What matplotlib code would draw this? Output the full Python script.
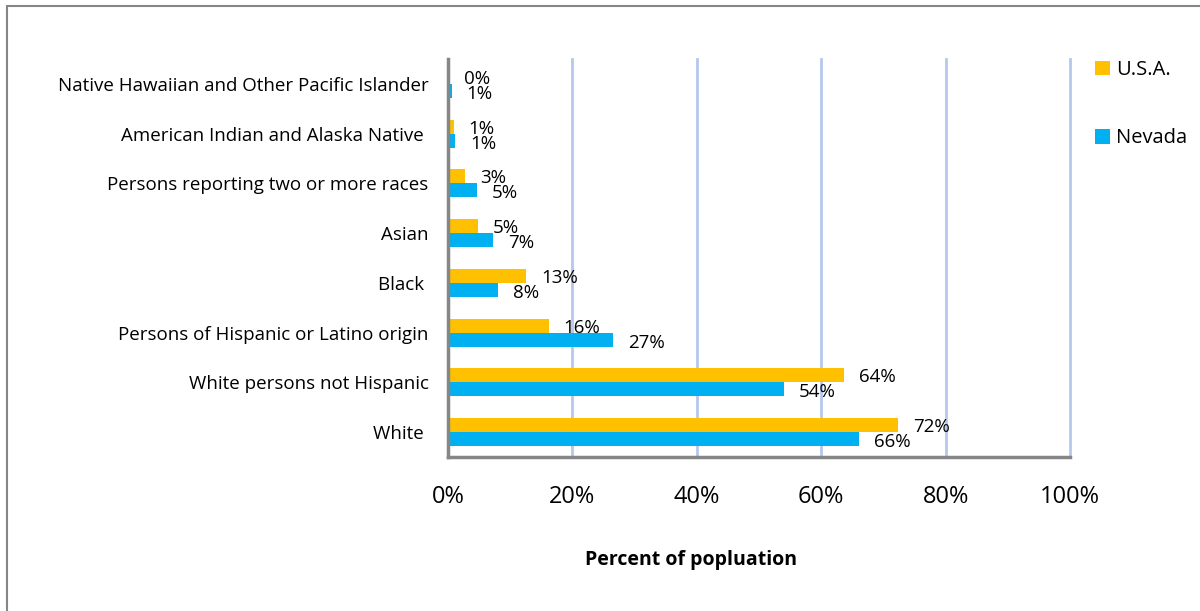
import numpy as np
import matplotlib
matplotlib.use("Agg")
import matplotlib.pyplot as plt
from matplotlib.patches import Rectangle

plt.rcParams['font.family'] = ['Open Sans', 'DejaVu Sans']

categories = ["White ", "White persons not Hispanic", "Persons of Hispanic or Latino origin",
              "Black ", "Asian", "Persons reporting two or more races",
              "American Indian and Alaska Native ", "Native Hawaiian and Other Pacific Islander"]
usa_values = [72.3, 63.6, 16.2, 12.6, 4.8, 2.8, 0.9, 0.2]
nevada_values = [66.1, 54.0, 26.5, 8.1, 7.2, 4.7, 1.2, 0.6]
usa_labels = ["72%", "64%", "16%", "13%", "5%", "3%", "1%", "0%"]
nevada_labels = ["66%", "54%", "27%", "8%", "7%", "5%", "1%", "1%"]
xticks = [0, 20, 40, 60, 80, 100]

usa_color = "#FFC000"
nevada_color = "#00B0F0"

fig = plt.figure(figsize=(12, 6.11), dpi=100)
ax = fig.add_axes([448 / 1200, 1 - 457 / 611, 622 / 1200, 398 / 611])

y = np.arange(len(categories))
h = 0.28
ax.barh(y + h / 2, usa_values, height=h, color=usa_color, label="U.S.A.")
ax.barh(y - h / 2, nevada_values, height=h, color=nevada_color, label="Nevada")

# value labels, offset right of bar ends like the original
for yi, v, lab in zip(y, usa_values, usa_labels):
    ax.annotate(lab, (v, yi + h / 2), xytext=(15, -2), textcoords="offset pixels",
                va="center", ha="left", fontsize=13.5, color="black")
for yi, v, lab in zip(y, nevada_values, nevada_labels):
    ax.annotate(lab, (v, yi - h / 2), xytext=(15, -3), textcoords="offset pixels",
                va="center", ha="left", fontsize=13.5, color="black")

ax.set_xlim(0, 100)
ax.set_ylim(-0.5, len(categories) - 0.5)
ax.set_xticks(xticks)
ax.set_xticklabels([f"{t}%" for t in xticks], fontsize=17)
ax.set_yticks(y)
ax.set_yticklabels(categories, fontsize=13.5)
ax.tick_params(axis="x", length=0, pad=20)
ax.tick_params(axis="y", length=0, pad=14)
ax.grid(axis="x", color="#B4C8EE", linewidth=2)
for gl in ax.get_xgridlines():
    gl.set_clip_on(False)
ax.set_axisbelow(True)
for s in ["top", "right"]:
    ax.spines[s].set_visible(False)
for s in ["left", "bottom"]:
    ax.spines[s].set_color("#868686")
    ax.spines[s].set_linewidth(2.5)

handles, labels = ax.get_legend_handles_labels()
fig.legend(handles, labels, loc="upper left", bbox_to_anchor=(1077 / 1200, 1 - 42 / 611),
           frameon=False, fontsize=14.5, handlelength=0.75, handleheight=0.75,
           handletextpad=0.3, labelspacing=2.4)

fig.text(691 / 1200, 1 - 560 / 611, "Percent of popluation", ha="center", va="center",
         fontsize=14, fontweight="bold")

fig.patches.append(Rectangle((7 / 1200, -0.5), 2, 1.5 - 6 / 611, transform=fig.transFigure,
                             fill=False, edgecolor="#868686", linewidth=1.5))

fig.savefig("out.png", dpi=100)
